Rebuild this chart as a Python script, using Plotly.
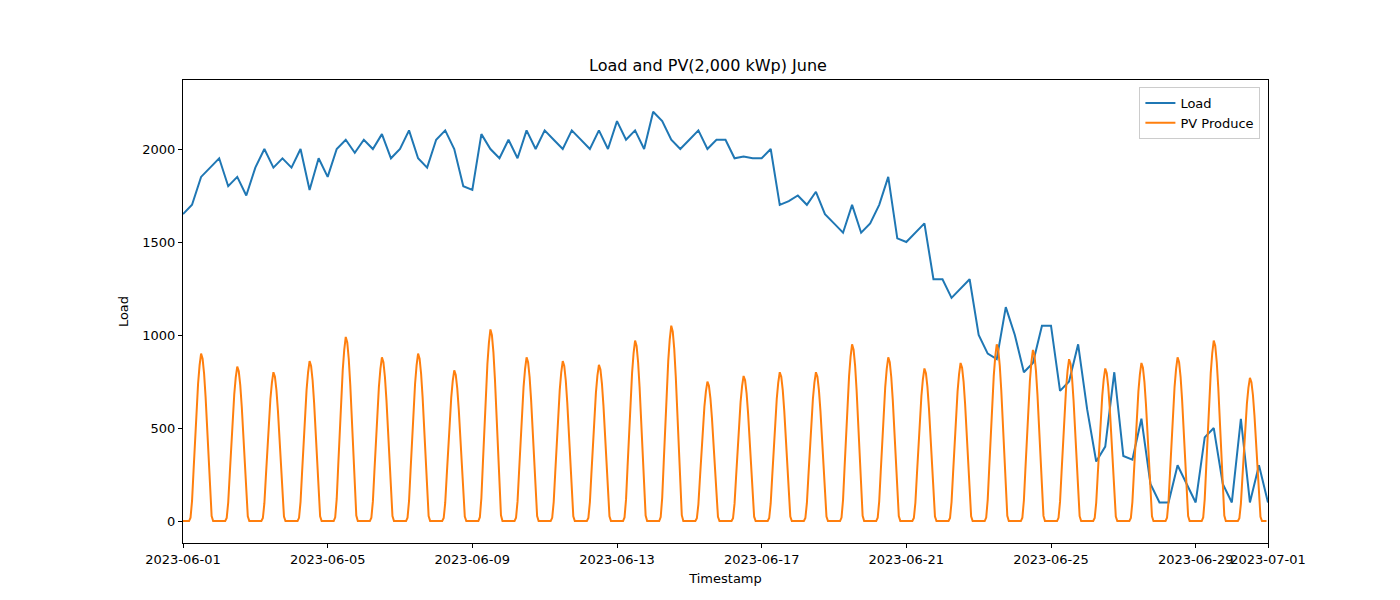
import numpy as np
import pandas as pd
import plotly.graph_objects as go

# load, read every 6 hours (00, 06, 12, 18) for each June day
load_6h = [
    1650, 1700, 1850, 1900,  1950, 1800, 1850, 1750,  1900, 2000, 1900, 1950,
    1900, 2000, 1780, 1950,  1850, 2000, 2050, 1980,  2050, 2000, 2080, 1950,
    2000, 2100, 1950, 1900,  2050, 2100, 2000, 1800,  1780, 2080, 2000, 1950,
    2050, 1950, 2100, 2000,  2100, 2050, 2000, 2100,  2050, 2000, 2100, 2000,
    2150, 2050, 2100, 2000,  2200, 2150, 2050, 2000,  2050, 2100, 2000, 2050,
    2050, 1950, 1960, 1950,  1950, 2000, 1700, 1720,  1750, 1700, 1770, 1650,
    1600, 1550, 1700, 1550,  1600, 1700, 1850, 1520,  1500, 1550, 1600, 1300,
    1300, 1200, 1250, 1300,  1000, 900, 870, 1150,   1000, 800, 850, 1050,
    1050, 700, 750, 950,     600, 320, 400, 800,     350, 330, 550, 200,
    100, 100, 300, 200,      100, 450, 500, 200,     100, 550, 100, 300,
    100,
]
# daily PV peak (kW) and typical hourly shape of a day
pv_peak = [900, 830, 800, 860, 990, 880, 900, 810, 1030, 880,
           860, 840, 970, 1050, 750, 780, 800, 800, 950, 880,
           820, 850, 950, 920, 870, 820, 850, 880, 970, 770]
pv_shape = [0, 0, 0, 0, 0, 0.02, 0.12, 0.3, 0.5, 0.68, 0.82, 0.93,
            1.0, 0.97, 0.88, 0.74, 0.55, 0.34, 0.14, 0.03, 0, 0, 0, 0]

t_load = pd.date_range("2023-06-01", periods=len(load_6h), freq="6h")
t_pv = pd.date_range("2023-06-01", periods=30 * 24, freq="h")
pv = np.concatenate([np.array(pv_shape) * p for p in pv_peak])

fig = go.Figure()
fig.add_trace(go.Scatter(x=t_load, y=load_6h, mode="lines", name="Load",
                         line=dict(color="#1f77b4", width=2)))
fig.add_trace(go.Scatter(x=t_pv, y=pv, mode="lines", name="PV Produce",
                         line=dict(color="#ff7f0e", width=2)))

ticks = list(pd.date_range("2023-06-01", periods=8, freq="4D")) + [pd.Timestamp("2023-07-01")]
axis = dict(showgrid=False, zeroline=False, showline=True, mirror=True,
            linecolor="black", linewidth=1, ticks="outside", ticklen=4,
            tickcolor="black", automargin=False, tickangle=0)
fig.update_layout(
    width=1400, height=600, paper_bgcolor="white", plot_bgcolor="white",
    font=dict(family="DejaVu Sans", size=13, color="black"),
    title=dict(text="Load and PV(2,000 kWp) June", x=0.5, y=0.905,
               xanchor="center", yanchor="middle", font=dict(size=16)),
    margin=dict(l=175, r=140, t=72, b=65),
    xaxis=dict(axis, range=["2023-06-01", "2023-07-01"], tickvals=ticks,
               tickformat="%Y-%m-%d",
               title=dict(text="Timestamp", standoff=8, font=dict(size=13))),
    yaxis=dict(axis, range=[-118, 2371], tickvals=[0, 500, 1000, 1500, 2000],
               title=dict(text="Load", standoff=10, font=dict(size=13))),
    legend=dict(x=0.993, y=0.985, xanchor="right", yanchor="top",
                bordercolor="#cccccc", borderwidth=1, bgcolor="white"),
    showlegend=True,
)
fig.write_html("out.html")
